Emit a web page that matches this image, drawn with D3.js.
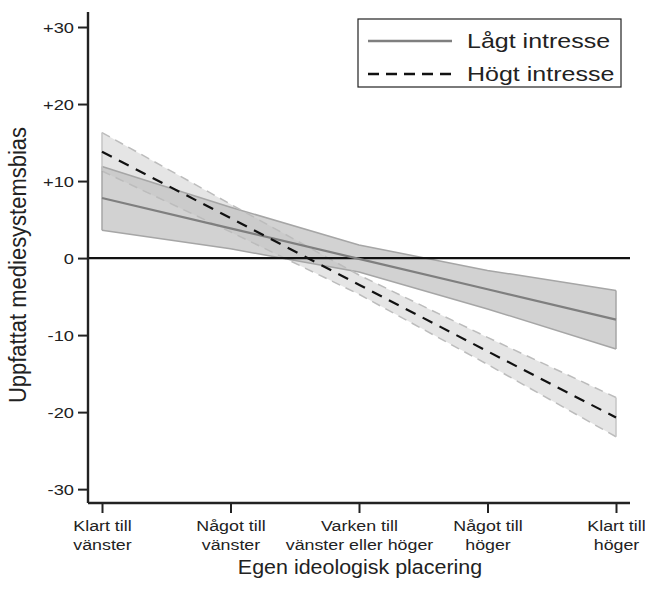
<!DOCTYPE html>
<html>
<head>
<meta charset="utf-8">
<script src="https://cdn.jsdelivr.net/npm/d3@7"></script>
<style>
  body { margin: 0; background: #fff; }
  svg { font-family: "Liberation Sans", Arial, sans-serif; }
</style>
</head>
<body>
<div id="chart"></div>
<script>
const categories = ['Klart till|vänster', 'Något till|vänster', 'Varken till|vänster eller höger', 'Något till|höger', 'Klart till|höger'];
const positions = [1, 2, 3, 4, 5];

const lowMean = [7.8, 3.85, -0.1, -4.05, -8.0];
const lowUpper = [11.9, 6.6, 1.7, -1.6, -4.2];
const lowLower = [3.6, 1.2, -1.8, -6.6, -11.8];

const highMean = [13.8, 5.2, -3.45, -12.1, -20.7];
const highUpper = [16.3, 7.0, -2.2, -10.3, -18.1];
const highLower = [11.3, 3.4, -4.7, -13.8, -23.2];

const yTicks = [30, 20, 10, 0, -10, -20, -30];
const yTickLabels = ['+30', '+20', '+10', '0', '-10', '-20', '-30'];

const svg = d3.select('#chart').append('svg').attr('width', 645).attr('height', 595);

const margin = {top: 12, left: 88},
      width = 542,
      height = 491;

// the reference text is a little wider than it is tall
const sx = 1.22;

const x = d3.scaleLinear().domain([1, 5]).range([14, 528]);
const y = d3.scaleLinear().domain([-31.8, 31.95]).range([height, 0]);

const g = svg.append('g')
    .attr('transform', `translate(${margin.left},${margin.top})`);

const area = (lo, hi) => d3.area()
    .x((d, i) => x(positions[i]))
    .y0((d, i) => y(lo[i]))
    .y1((d, i) => y(hi[i]))(positions);

const line = vals => d3.line()
    .x((d, i) => x(positions[i]))
    .y((d, i) => y(vals[i]))(positions);

// low interest band
g.append('path')
    .attr('d', area(lowLower, lowUpper))
    .attr('fill', '#a8a8a8')
    .attr('fill-opacity', 0.52)
    .attr('stroke', 'none');

// high interest band
g.append('path')
    .attr('d', area(highLower, highUpper))
    .attr('fill', '#c0c0c0')
    .attr('fill-opacity', 0.42)
    .attr('stroke', 'none');

// band edges
[lowUpper, lowLower].forEach(v => {
    g.append('path').attr('d', line(v))
        .attr('fill', 'none').attr('stroke', '#a6a6a6').attr('stroke-width', 1.5);
});
[highUpper, highLower].forEach(v => {
    g.append('path').attr('d', line(v))
        .attr('fill', 'none').attr('stroke', '#bcbcbc').attr('stroke-width', 1.5)
        .attr('stroke-dasharray', '9,6');
});
// band end caps
[[lowLower, lowUpper, '#a6a6a6'], [highLower, highUpper, '#c4c4c4']].forEach(([lo, hi, c]) => {
    [0, 4].forEach(i => {
        g.append('line')
            .attr('x1', x(positions[i])).attr('x2', x(positions[i]))
            .attr('y1', y(lo[i])).attr('y2', y(hi[i]))
            .attr('stroke', c).attr('stroke-width', 1.5);
    });
});

// zero line
g.append('line')
    .attr('x1', 0).attr('x2', width)
    .attr('y1', y(0)).attr('y2', y(0))
    .attr('stroke', '#111').attr('stroke-width', 2.4);

// mean lines
g.append('path').attr('d', line(lowMean))
    .attr('fill', 'none').attr('stroke', '#7f7f7f').attr('stroke-width', 2.2);
g.append('path').attr('d', line(highMean))
    .attr('fill', 'none').attr('stroke', '#111').attr('stroke-width', 2.2)
    .attr('stroke-dasharray', '11,8');

// axes
const yAxis = g.append('g')
    .call(d3.axisLeft(y).tickValues(yTicks).tickFormat('').tickSize(10).tickSizeOuter(0));
yAxis.select('.domain').remove();
yAxis.selectAll('line').attr('stroke', '#222').attr('stroke-width', 2);
yAxis.selectAll('.tick text').remove();
yAxis.selectAll('.tick').each(function(d, i) {
    d3.select(this).append('text')
        .attr('transform', `translate(-14,0) scale(${sx},1)`)
        .attr('dy', '0.35em')
        .attr('text-anchor', 'end')
        .attr('fill', '#222')
        .attr('font-size', 15)
        .text(yTickLabels[i]);
});

g.append('line').attr('x1', 0).attr('x2', 0).attr('y1', 0).attr('y2', height)
    .attr('stroke', '#222').attr('stroke-width', 2.4);
g.append('line').attr('x1', 0).attr('x2', width).attr('y1', height).attr('y2', height)
    .attr('stroke', '#222').attr('stroke-width', 2.4);

const xAxis = g.append('g')
    .attr('transform', `translate(0,${height})`)
    .call(d3.axisBottom(x).tickValues(positions).tickFormat('').tickSize(10).tickSizeOuter(0));
xAxis.select('.domain').remove();
xAxis.selectAll('line').attr('stroke', '#222').attr('stroke-width', 2);
xAxis.selectAll('.tick text').remove();

xAxis.selectAll('.tick').each(function(d, i) {
    const t = d3.select(this).append('text')
        .attr('transform', 'scale(1.15,1)')
        .attr('text-anchor', 'middle')
        .attr('fill', '#222')
        .attr('font-size', 15.5);
    categories[i].split('|').forEach((s, k) => {
        t.append('tspan').attr('x', 0).attr('y', 28 + k * 19).text(s);
    });
});

// axis titles
svg.append('text')
    .attr('transform', 'translate(360,574) scale(1.1,1)')
    .attr('text-anchor', 'middle')
    .attr('font-size', 19.5)
    .attr('fill', '#222')
    .text('Egen ideologisk placering');

svg.append('text')
    .attr('transform', 'translate(26,265) rotate(-90) scale(1,1.12)')
    .attr('text-anchor', 'middle')
    .attr('font-size', 22)
    .attr('fill', '#222')
    .text('Uppfattat mediesystemsbias');

// legend
const lg = svg.append('g');
lg.append('rect')
    .attr('x', 358).attr('y', 19).attr('width', 263).attr('height', 68)
    .attr('fill', '#fff').attr('stroke', '#222').attr('stroke-width', 1.2);
lg.append('line').attr('x1', 368).attr('x2', 452).attr('y1', 41).attr('y2', 41)
    .attr('stroke', '#7f7f7f').attr('stroke-width', 2.5);
lg.append('line').attr('x1', 368).attr('x2', 452).attr('y1', 74).attr('y2', 74)
    .attr('stroke', '#111').attr('stroke-width', 2.5).attr('stroke-dasharray', '11,7');
lg.append('text').attr('transform', `translate(467,48) scale(${sx},1)`)
    .attr('font-size', 20.5).attr('fill', '#222').text('Lågt intresse');
lg.append('text').attr('transform', `translate(467,81) scale(${sx},1)`)
    .attr('font-size', 20.5).attr('fill', '#222').text('Högt intresse');
</script>
</body>
</html>
